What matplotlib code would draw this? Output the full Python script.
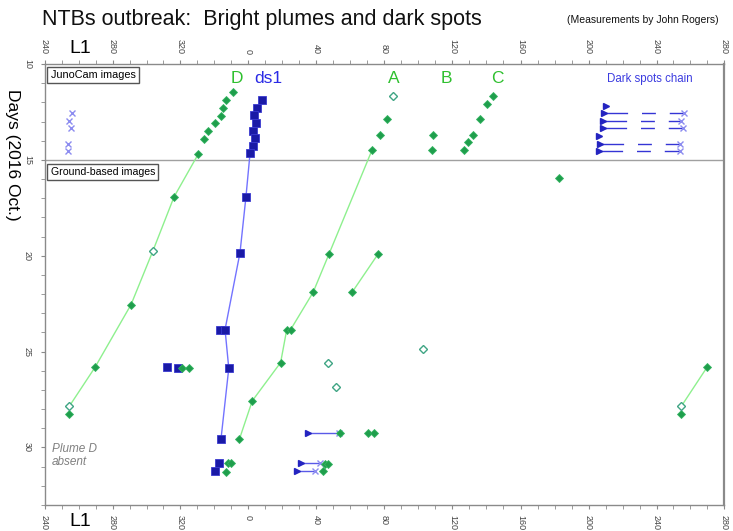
import matplotlib
matplotlib.use('Agg')
import matplotlib.pyplot as plt
import numpy as np
from matplotlib.ticker import MultipleLocator, FuncFormatter

plt.rcParams['font.family'] = ['Liberation Sans', 'DejaVu Sans']

# ---------------- data: System I longitude L1 (deg) and day of 2016 Oct. ----------------
# Plume D
D_lon = [351.1, 346.6, 345.2, 343.6, 340.5, 336.2, 333.9, 330.5, 316.2, 290.9, 269.7, 254.6]
D_day = [11.47, 11.89, 12.29, 12.69, 13.09, 13.51, 13.91, 14.69, 16.93, 22.55, 25.82, 28.28]
D_open_lon = [303.8, 254.6]
D_open_day = [19.74, 27.85]
D_track_lon = [330.5, 316.2, 303.8, 290.9, 269.7, 254.6]
D_track_day = [14.69, 16.93, 19.74, 22.55, 25.82, 27.85]

# Plume A
A_lon = [81.3, 77.5, 72.8, 47.4, 38.0, 22.5, 24.8, 18.9, 2.2, 354.6]
A_day = [12.88, 13.70, 14.46, 19.90, 21.91, 23.85, 23.85, 25.57, 27.57, 29.58]
A_open_lon = [85.2]
A_open_day = [11.67]
A_track_lon = [72.8, 47.4, 38.0, 24.8, 22.5, 18.9, 2.2, 354.6]
A_track_day = [14.46, 19.90, 21.91, 23.85, 23.85, 25.57, 27.57, 29.58]

# Plume B
B_lon = [108.4, 107.9, 76.3, 60.9]
B_day = [13.70, 14.46, 19.90, 21.91]
B_track_lon = [76.3, 60.9]
B_track_day = [19.90, 21.91]

# Plume C
C_lon = [144.0, 140.3, 136.2, 132.2, 129.3, 126.6]
C_day = [11.67, 12.08, 12.88, 13.70, 14.06, 14.46]

# Other bright-plume measurements
P_lon = [182.8, 320.9, 325.0, 347.8, 349.5, 346.9, 70.5, 74.0, 53.8, 45.0, 46.6, 43.6]
P_day = [15.92, 25.87, 25.83, 30.83, 30.83, 31.27, 29.23, 29.23, 29.24, 30.85, 30.85, 31.23]
P_open_lon = [102.6, 46.6, 51.6]
P_open_day = [24.84, 25.57, 26.82]

# Dark spot ds1
ds1_lon = [7.8, 4.8, 3.2, 4.6, 2.4, 4.0, 2.8, 0.9, 358.5, 355.0, 343.2, 346.2, 348.4, 343.8, 342.6, 340.1]
ds1_day = [11.89, 12.28, 12.67, 13.07, 13.48, 13.86, 14.26, 14.66, 16.93, 19.84, 23.85, 23.85, 25.87, 29.57, 30.82, 31.23]
ds1_track_lon = [0.9, 358.5, 355.0, 346.2, 348.4, 343.8]
ds1_track_day = [14.66, 16.93, 19.84, 23.85, 25.87, 29.57]
ds_other_lon = [311.9, 318.4]
ds_other_day = [25.80, 25.84]

# Dark spots chain (JunoCam): west end (triangle) and east end (cross)
chain_w_lon = [210.3, 209.1, 208.7, 208.7, 206.2, 206.8, 206.0]
chain_w_day = [12.17, 12.54, 12.95, 13.35, 13.75, 14.15, 14.53]
chain_e_lon = [256.2, 254.7, 255.5, 253.8, 253.6]
chain_e_day = [12.54, 12.95, 13.35, 14.15, 14.53]

# Ground-based dark spot chain segments
gchain_w_lon = [35.2, 30.7, 28.5]
gchain_e_lon = [53.4, 42.1, 39.1]
gchain_day = [29.24, 30.82, 31.21]

# ---------------- helpers ----------------
def unwrap(lon):
    lon = np.asarray(lon, dtype=float)
    return np.where(lon >= 240, lon, lon + 360)

def wrapped(ax, lon, day, shifts=(0, 360), **kw):
    v = unwrap(lon)
    for s in shifts:
        ax.plot(v + s, day, **kw)

GREEN = '#1f9e4c'
GLINE = '#8ef08e'
NAVY = '#1a1aa6'
BLINE = '#7373ff'
OPENC = '#3fa584'
XCOL = '#8c8cf0'
TRI = '#2424c0'

fig = plt.figure(figsize=(7.33, 5.31), dpi=100)
ax = fig.add_axes([44.5 / 733, 1 - 505 / 531, 680 / 733, 441 / 531])
ax.set_xlim(240, 640)
ax.set_ylim(33, 10)

# tracks
wrapped(ax, D_track_lon, D_track_day, shifts=(0,), color=GLINE, lw=1, zorder=1)
wrapped(ax, D_track_lon[-2:], D_track_day[-2:], shifts=(360,), color=GLINE, lw=1, zorder=1)
wrapped(ax, A_track_lon, A_track_day, color=GLINE, lw=1, zorder=1)
wrapped(ax, B_track_lon, B_track_day, color=GLINE, lw=1, zorder=1)
wrapped(ax, ds1_track_lon, ds1_track_day, color=BLINE, lw=1, zorder=1)

# dark spot chain lines (JunoCam) - dashed connecting segments
vw = unwrap(chain_w_lon)
ve = unwrap(chain_e_lon) + 360
for i, dday in enumerate(chain_e_day):
    j = chain_w_day.index(dday)
    ln, = ax.plot([vw[j], ve[i]], [dday, dday], color='#3535d5', lw=1, zorder=2)
    ln.set_dashes((17, 10, 10, 10))
wrapped(ax, chain_w_lon, chain_w_day, ls='none', marker='>', ms=5, color=TRI, zorder=4)
wrapped(ax, chain_e_lon, chain_e_day, ls='none', marker='x', ms=5, mew=1, color=XCOL, zorder=4)

# ground-based chain segments
for w, e, dday in zip(gchain_w_lon, gchain_e_lon, gchain_day):
    ax.plot(unwrap([w, e]), [dday, dday], color='#5a5ae8', lw=1, zorder=2)
wrapped(ax, gchain_w_lon, gchain_day, ls='none', marker='>', ms=5, color=TRI, zorder=4)
wrapped(ax, gchain_e_lon, gchain_day, ls='none', marker='x', ms=5, mew=1, color=XCOL, zorder=4)

# dark spot squares
wrapped(ax, ds1_lon, ds1_day, ls='none', marker='s', ms=5.5, color=NAVY, mec='#3a3ad0', mew=0.6, zorder=3)
wrapped(ax, ds_other_lon, ds_other_day, ls='none', marker='s', ms=5.5, color=NAVY, mec='#3a3ad0', mew=0.6, zorder=3)

# plume diamonds
for lon, day in [(D_lon, D_day), (A_lon, A_day), (B_lon, B_day), (C_lon, C_day), (P_lon, P_day)]:
    wrapped(ax, lon, day, ls='none', marker='D', ms=4.2, color=GREEN, mec='#34b462', mew=0.6, zorder=5)
for lon, day in [(D_open_lon, D_open_day), (A_open_lon, A_open_day), (P_open_lon, P_open_day)]:
    wrapped(ax, lon, day, ls='none', marker='D', ms=4.2, mfc='white', mec=OPENC, mew=1, zorder=5)

# separator between JunoCam and ground-based data
ax.axhline(15, color='#a0a0a0', lw=1, zorder=0)

# axis styling
for sp in ax.spines.values():
    sp.set_color('#8a8a8a')
    sp.set_linewidth(1)
ax.spines['right'].set_linewidth(1.6)
ax.xaxis.set_major_locator(MultipleLocator(40))
ax.xaxis.set_minor_locator(MultipleLocator(10))
ax.xaxis.set_major_formatter(FuncFormatter(lambda v, p: '%d' % (round(v) % 360)))
ax.yaxis.set_major_locator(MultipleLocator(5))
ax.yaxis.set_minor_locator(MultipleLocator(1))
ax.tick_params(axis='x', which='both', top=True, bottom=True, labeltop=True, labelbottom=True,
               direction='out', color='#8a8a8a', labelcolor='#444444', labelsize=6.5,
               labelrotation=270, pad=4)
ax.tick_params(axis='y', which='both', left=True, right=False, direction='out', color='#8a8a8a',
               labelcolor='#444444', labelsize=6.5, labelrotation=270, pad=6)
ax.tick_params(which='major', length=3)
ax.tick_params(which='minor', length=3)
for lab in ax.get_yticklabels():
    lab.set_va('center')

# text
fig.text(42 / 733, 1 - 19 / 531, 'NTBs outbreak:  Bright plumes and dark spots', fontsize=15.5,
         ha='left', va='center', color='#111111')
fig.text(719 / 733, 1 - 20 / 531, '(Measurements by John Rogers)', fontsize=7.5,
         ha='right', va='center', color='#111111')
fig.text(80 / 733, 1 - 48 / 531, 'L1', fontsize=14, ha='center', va='center')
fig.text(80 / 733, 1 - 522 / 531, 'L1', fontsize=14, ha='center', va='center')
fig.text(12 / 733, 1 - 155 / 531, 'Days (2016 Oct.)', fontsize=12.5, rotation=270,
         ha='center', va='center')

box = dict(boxstyle='square,pad=0.3', fc='white', ec='#555555', lw=1)
ax.text(0.009, 0.975, 'JunoCam images', transform=ax.transAxes, fontsize=7.8,
        ha='left', va='center', bbox=box, zorder=6)
ax.text(0.009, 0.755, 'Ground-based images', transform=ax.transAxes, fontsize=7.6,
        ha='left', va='center', bbox=box, zorder=6)
ax.text(0.011, 0.14, 'Plume D\nabsent', transform=ax.transAxes, fontsize=8.5, style='italic',
        color='#808080', ha='left', va='top', linespacing=1.1)

LG = '#2fc02f'
ax.text(353.2, 10.75, 'D', color=LG, fontsize=12.5, ha='center', va='center')
ax.text(371.5, 10.75, 'ds1', color='#2a2ae6', fontsize=12.5, ha='center', va='center')
ax.text(445.6, 10.75, 'A', color=LG, fontsize=12.5, ha='center', va='center')
ax.text(476.2, 10.75, 'B', color=LG, fontsize=12.5, ha='center', va='center')
ax.text(506.2, 10.75, 'C', color=LG, fontsize=12.5, ha='center', va='center')
ax.text(596.2, 10.78, 'Dark spots chain', color='#3c3ce0', fontsize=8.3, ha='center', va='center')

fig.savefig('out.png', dpi=100)
